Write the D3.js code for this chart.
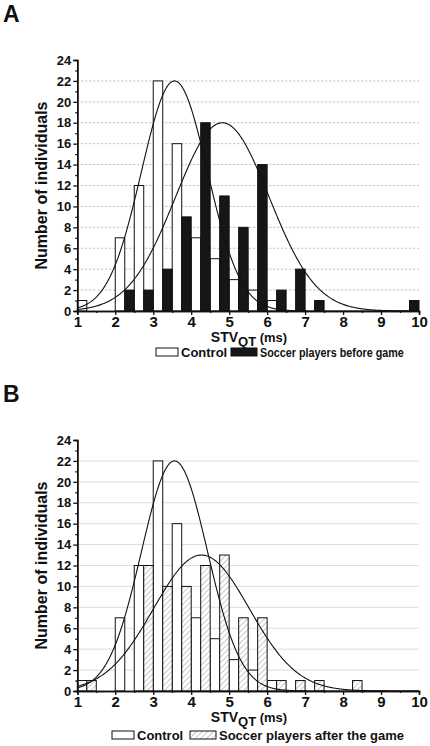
<!DOCTYPE html>
<html><head><meta charset="utf-8">
<script src="https://cdn.jsdelivr.net/npm/d3@7"></script>
<style>body{margin:0;background:#fff}svg{display:block}text{font-family:"Liberation Sans",Arial,sans-serif}</style>
</head><body><svg id="c" width="430" height="746"></svg>
<script>
// bins of 0.5 ms: control bar occupies first quarter, players bar the second
const binStarts = [1,1.5,2,2.5,3,3.5,4,4.5,5,5.5,6,6.5,7,7.5,8,8.5,9,9.5];
const controlCounts = [1,0,7,12,22,16,7,5,3,2,1,0,0,0,0,0,0,0];
const beforeCounts  = [0,0,2,2,4,9,18,11,8,14,2,4,1,0,0,0,0,1];
const afterCounts   = [1,0,0,12,10,10,12,13,7,7,1,1,1,0,1,0,0,0];
// fitted normal curves: [mean, sd, peak]
const controlFit = [3.56, 0.87, 22];
const beforeFit  = [4.82, 1.23, 18];
const afterFit   = [4.27, 1.26, 13];
const xTicks = [1,2,3,4,5,6,7,8,9,10];
const yTicks = [0,2,4,6,8,10,12,14,16,18,20,22,24];
const panelLetters = ["A","B"];
const legendLabels = [["Control","Soccer players before game"],["Control","Soccer players after the game"]];

const svg = d3.select("#c");
const defs = svg.append("defs");
const pat = defs.append("pattern").attr("id","hatch").attr("patternUnits","userSpaceOnUse")
  .attr("width",4).attr("height",4).attr("patternTransform","rotate(45)");
pat.append("rect").attr("width",4).attr("height",4).attr("fill","#fff");
pat.append("line").attr("x1",0).attr("y1",0).attr("x2",0).attr("y2",4).attr("stroke","#777").attr("stroke-width",0.8);

const x = d3.scaleLinear().domain([1,10]).range([77.3,419]);

function fitText(parent, tx, ty, label, targetW){
  const t = parent.append("text").attr("font-size",13).attr("fill","#111").attr("font-weight","bold").text(label);
  const w = t.node().getComputedTextLength();
  const s = Math.min(1, targetW / w);
  t.attr("transform",`translate(${tx},${ty}) scale(${s},1)`);
}

function panel(idx, top, bottom, secondCounts, secondFill, fits, gridDash, gridColor, legendY, legendPos, legendLens){
  const g = svg.append("g");
  const y = d3.scaleLinear().domain([0,24]).range([bottom, top]);
  g.append("g").selectAll("line").data(yTicks.filter(v=>v>0 && v<24)).join("line")
    .attr("x1",x(1)).attr("x2",x(10)).attr("y1",d=>y(d)).attr("y2",d=>y(d))
    .attr("stroke",gridColor).attr("stroke-width",1).attr("stroke-dasharray",gridDash);
  const bw = x(1.25)-x(1);
  g.append("g").selectAll("rect").data(binStarts.map((b,i)=>({b,v:controlCounts[i]})).filter(d=>d.v>0)).join("rect")
    .attr("x",d=>x(d.b)).attr("width",bw).attr("y",d=>y(d.v)).attr("height",d=>y(0)-y(d.v))
    .attr("fill","#fff").attr("stroke","#111").attr("stroke-width",1);
  g.append("g").selectAll("rect").data(binStarts.map((b,i)=>({b,v:secondCounts[i]})).filter(d=>d.v>0)).join("rect")
    .attr("x",d=>x(d.b+0.25)).attr("width",bw).attr("y",d=>y(d.v)).attr("height",d=>y(0)-y(d.v))
    .attr("fill",secondFill).attr("stroke","#111").attr("stroke-width",1);
  const xs = d3.range(1,10.001,0.02);
  fits.forEach(f=>{
    const line = d3.line().x(d=>x(d)).y(d=>y(f[2]*Math.exp(-Math.pow(d-f[0],2)/(2*f[1]*f[1]))));
    g.append("path").attr("d",line(xs)).attr("fill","none").attr("stroke","#111").attr("stroke-width",1.1);
  });
  const yAxis = g.append("g").attr("transform",`translate(${x(1)},0)`).call(d3.axisLeft(y).tickValues(yTicks).tickSize(4).tickPadding(2));
  const yMinor = g.append("g").attr("transform",`translate(${x(1)},0)`).call(d3.axisLeft(y).tickValues(d3.range(1,24,2)).tickSize(2).tickFormat(""));
  const xAxis = g.append("g").attr("transform",`translate(0,${bottom})`).call(d3.axisBottom(x).tickValues(xTicks).tickSize(4).tickPadding(1));
  const xMinor = g.append("g").attr("transform",`translate(0,${bottom})`).call(d3.axisBottom(x).tickValues(d3.range(1.5,10,1)).tickSize(2).tickFormat(""));
  [yAxis,yMinor,xAxis,xMinor].forEach(a=>{a.selectAll(".domain").attr("stroke","#111").attr("stroke-width",1.5);a.selectAll(".tick line").attr("stroke","#111").attr("stroke-width",1.3);});
  yAxis.selectAll("text").attr("font-size",13).attr("font-weight","bold").attr("fill","#111");
  xAxis.selectAll("text").attr("font-size",15).attr("font-weight","bold").attr("fill","#111");
  g.append("text").attr("transform",`translate(47,${(top+bottom)/2}) rotate(-90)`).attr("text-anchor","middle")
    .attr("font-size",16).attr("font-weight","bold").attr("fill","#111").text("Number of individuals");
  const xl = g.append("text").attr("x",249).attr("y",bottom+31).attr("text-anchor","middle").attr("font-size",14).attr("font-weight","bold").attr("fill","#111");
  xl.append("tspan").text("STV");
  xl.append("tspan").attr("dy",4).attr("font-size",13).text("QT");
  xl.append("tspan").attr("dy",-4).attr("font-size",13).text(" (ms)");
  g.append("text").attr("x",3).attr("y",top-38).attr("font-size",23).attr("font-weight","bold").attr("fill","#111").text(panelLetters[idx]);
  const L = g.append("g").attr("transform",`translate(0,${legendY})`);
  L.append("rect").attr("x",legendPos[0]).attr("y",-4).attr("width",22).attr("height",8).attr("fill","#fff").attr("stroke","#111");
  fitText(L, legendPos[0]+25, 5, legendLabels[idx][0], legendLens[0]);
  L.append("rect").attr("x",legendPos[1]).attr("y",-4).attr("width",26).attr("height",8).attr("fill",secondFill).attr("stroke","#111");
  fitText(L, legendPos[1]+29, 5, legendLabels[idx][1], legendLens[1]);
}
panel(0, 60, 311, beforeCounts, "#161616", [controlFit, beforeFit], "2,2", "#bbb", 352, [156, 231], [47, 144]);
panel(1, 440, 691, afterCounts, "url(#hatch)", [controlFit, afterFit], null, "#ddd", 735, [112, 190], [50, 186]);
</script></body></html>
